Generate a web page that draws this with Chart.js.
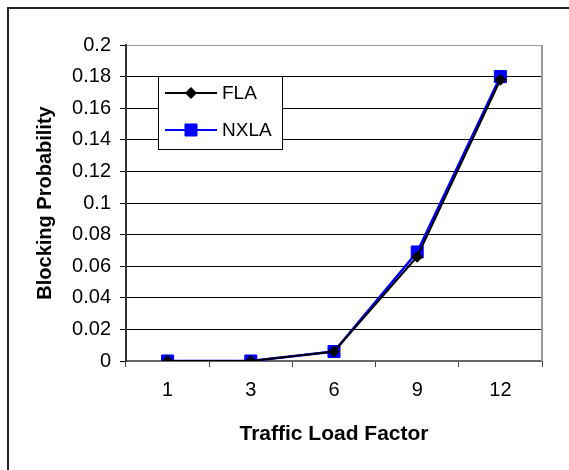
<!DOCTYPE html>
<html>
<head>
<meta charset="utf-8">
<script src="https://cdn.jsdelivr.net/npm/chart.js@4"></script>
<style>
  html, body { margin: 0; padding: 0; background: #fff; }
  #wrap { width: 569px; height: 470px; position: relative; }
</style>
</head>
<body>
<div id="wrap"><canvas id="grafica"></canvas></div>
<script>
// ── DATOS ─────────────────────────────────────────────
const categorias = ['1', '3', '6', '9', '12'];
const valoresFLA  = [0, 0, 0.006, 0.066, 0.178];
const valoresNXLA = [0, 0, 0.006, 0.069, 0.18];
const tituloX = 'Traffic Load Factor';
const tituloY = 'Blocking Probability';

const fuente = "'Liberation Sans', Arial, sans-serif";

// marco exterior, borde derecho del área y leyenda interna
const decoracion = {
    id: 'decoracion',
    afterDraw(chart) {
        const ctx = chart.ctx;
        const a = chart.chartArea;
        ctx.save();
        // borde derecho gris
        ctx.strokeStyle = '#9a9a9a';
        ctx.lineWidth = 2;
        ctx.beginPath();
        ctx.moveTo(a.right, a.top);
        ctx.lineTo(a.right, a.bottom);
        ctx.stroke();

        // marco exterior
        ctx.strokeStyle = '#222';
        ctx.lineWidth = 2;
        ctx.beginPath();
        ctx.moveTo(8, 470);
        ctx.lineTo(8, 8);
        ctx.lineTo(569, 8);
        ctx.stroke();

        // leyenda
        ctx.fillStyle = '#fff';
        ctx.fillRect(158, 76, 124, 73);
        ctx.strokeStyle = '#000';
        ctx.lineWidth = 1;
        ctx.strokeRect(158.5, 76.5, 124, 73);
        const filas = [93, 130];
        chart.data.datasets.forEach((ds, i) => {
            const y = filas[i];
            ctx.strokeStyle = ds.borderColor;
            ctx.lineWidth = 2;
            ctx.beginPath();
            ctx.moveTo(165, y);
            ctx.lineTo(217, y);
            ctx.stroke();
            ctx.fillStyle = ds.pointBackgroundColor;
            ctx.strokeStyle = ds.pointBorderColor;
            ctx.lineWidth = 1;
            Chart.helpers.drawPoint(ctx, {
                pointStyle: ds.pointStyle,
                radius: ds.pointRadius,
                borderWidth: 1,
                rotation: 0
            }, 191, y);
            ctx.fillStyle = '#000';
            ctx.font = '19px ' + fuente;
            ctx.textBaseline = 'middle';
            ctx.textAlign = 'left';
            ctx.fillText(ds.label, 222, y + 1);
        });
        ctx.restore();
    }
};

new Chart(document.getElementById('grafica'), {
    type: 'line',
    data: {
        labels: categorias,
        datasets: [{
            label: 'FLA',
            data: valoresFLA,
            borderColor: '#000',
            borderWidth: 2,
            pointStyle: 'rectRot',
            pointRadius: 5.5,
            pointBackgroundColor: '#000',
            pointBorderColor: '#000',
            pointBorderWidth: 1,
            tension: 0
        }, {
            label: 'NXLA',
            data: valoresNXLA,
            borderColor: '#0000ff',
            borderWidth: 2.5,
            pointStyle: 'rect',
            pointRadius: 8.5,
            pointBackgroundColor: '#0000ff',
            pointBorderColor: '#0000ff',
            pointBorderWidth: 1,
            tension: 0
        }]
    },
    options: {
        responsive: true,
        maintainAspectRatio: false,
        animation: false,
        layout: { padding: { top: 45, right: 27, left: 0, bottom: 0 } },
        plugins: {
            legend: { display: false },
            tooltip: { enabled: false }
        },
        scales: {
            x: {
                offset: true,
                grid: {
                    offset: true,
                    drawOnChartArea: false,
                    drawTicks: true,
                    tickLength: 6,
                    tickColor: '#444'
                },
                border: { display: true, color: '#666', width: 2 },
                ticks: {
                    color: '#000',
                    padding: 11,
                    font: { family: fuente, size: 20 },
                    maxRotation: 0
                },
                title: {
                    display: true,
                    text: tituloX,
                    color: '#000',
                    font: { family: fuente, size: 21, weight: 'bold' },
                    padding: { top: 0, bottom: 23 }
                },
                afterFit: s => { s.height = 109; }
            },
            y: {
                min: 0,
                max: 0.2,
                ticks: {
                    stepSize: 0.02,
                    color: '#000',
                    padding: 9,
                    font: { family: fuente, size: 20 },
                    callback: v => String(Math.round(v * 100) / 100)
                },
                grid: {
                    color: c => (c.tick && c.tick.value >= 0.199) ? '#9a9a9a' : (c.tick && c.tick.value === 0 ? '#666' : '#000'),
                    lineWidth: 1,
                    tickLength: 6,
                    tickColor: '#000'
                },
                border: { display: true, color: '#333', width: 2 },
                title: {
                    display: true,
                    text: tituloY,
                    color: '#000',
                    font: { family: fuente, size: 20, weight: 'bold' },
                    padding: { top: 33, bottom: 0 }
                },
                afterFit: s => { s.width = 126; }
            }
        }
    },
    plugins: [decoracion]
});
</script>
</body>
</html>
